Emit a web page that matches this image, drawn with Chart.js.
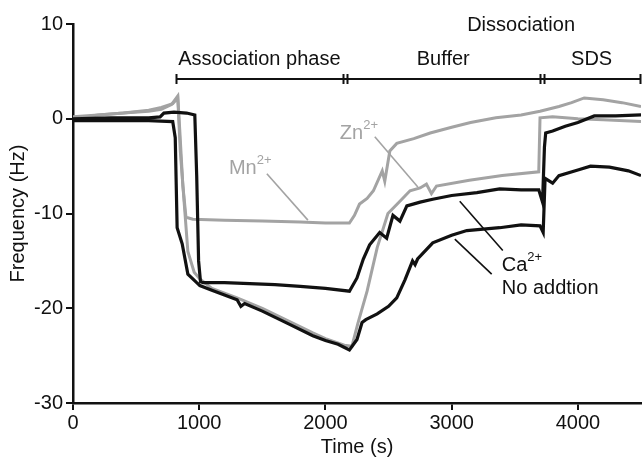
<!DOCTYPE html>
<html>
<head>
<meta charset="utf-8">
<script src="https://cdn.jsdelivr.net/npm/chart.js@4.4.1/dist/chart.umd.min.js"></script>
<style>
  html, body { margin: 0; padding: 0; background: #fff; }
</style>
</head>
<body>
<canvas id="qcmChart" width="643" height="460"></canvas>
<script>
// tick labels
const xTicks = [0, 1000, 2000, 3000, 4000];
const yTicks = [-30, -20, -10, 0, 10];

// Ca2+ trace (black)
const caTime = [0, 300, 600, 690, 720, 800, 900, 965, 980, 995, 1010, 1030, 1200, 1400, 1600, 1800, 2000, 2190, 2250, 2300, 2350, 2430, 2485, 2535, 2590, 2645, 2750, 2850, 3000, 3200, 3380, 3550, 3690, 3720, 3735, 3745, 3800, 3900, 4000, 4130, 4300, 4500];
const caFreq = [0, 0.1, 0.1, 0.2, 0.6, 0.7, 0.6, 0.4, -6, -15, -17.2, -17.3, -17.3, -17.4, -17.5, -17.7, -17.9, -18.2, -16.8, -14.8, -13.3, -12.0, -12.6, -10.2, -10.8, -9.2, -8.8, -8.5, -8.1, -7.8, -7.4, -7.5, -7.5, -8.8, -3, -1.5, -1.3, -0.8, -0.4, 0.3, 0.3, 0.4];

// no addition trace (black)
const noAddTime = [0, 300, 600, 790, 810, 825, 865, 910, 980, 1005, 1100, 1200, 1300, 1330, 1360, 1500, 1700, 1900, 2000, 2100, 2190, 2250, 2290, 2320, 2410, 2500, 2565, 2630, 2690, 2710, 2730, 2850, 3000, 3120, 3380, 3550, 3700, 3725, 3740, 3800, 3850, 4000, 4100, 4250, 4400, 4500];
const noAddFreq = [-0.2, -0.2, -0.2, -0.3, -2, -11.5, -13.2, -16.4, -17.3, -17.6, -18.1, -18.6, -19.1, -19.8, -19.5, -20.3, -21.6, -22.9, -23.4, -23.8, -24.4, -23.3, -21.5, -21.2, -20.6, -19.8, -18.9, -17, -15, -15.4, -14.8, -13.1, -12.3, -11.8, -11.5, -11.2, -11.3, -12, -6.3, -6.8, -6.0, -5.4, -5.0, -5.1, -5.5, -6.0];

// Mn2+ trace (grey)
const mnTime = [0, 200, 400, 600, 700, 780, 830, 845, 870, 895, 950, 1200, 1500, 1800, 2000, 2190, 2230, 2270, 2330, 2380, 2450, 2470, 2510, 2565, 2700, 2830, 3000, 3150, 3350, 3550, 3700, 3850, 3950, 4050, 4200, 4350, 4500];
const mnFreq = [0, 0.4, 0.6, 0.8, 1.0, 1.5, 2.4, -1, -7, -10.4, -10.6, -10.7, -10.8, -10.9, -11.0, -11.0, -10.2, -9.0, -8.4, -7.6, -5.5, -6.6, -3.4, -2.6, -2.1, -1.5, -0.9, -0.4, 0.1, 0.4, 0.8, 1.3, 1.7, 2.2, 2.0, 1.7, 1.3];

// Zn2+ trace (grey)
const znTime = [0, 200, 400, 600, 700, 790, 830, 850, 910, 960, 1005, 1100, 1300, 1500, 1700, 1900, 2000, 2150, 2210, 2257, 2330, 2410, 2495, 2590, 2670, 2750, 2800, 2840, 2880, 3140, 3400, 3690, 3700, 3800, 4000, 4200, 4500];
const znFreq = [0.2, 0.4, 0.6, 0.9, 1.2, 1.6, 2.2, -3.4, -14, -16.2, -16.9, -17.9, -18.9, -20.0, -21.3, -22.6, -23.2, -23.9, -24.0, -21.6, -18.2, -13.6, -10.0, -8.7, -7.6, -7.3, -6.9, -7.9, -7.1, -6.5, -6.0, -5.6, 0.1, 0.2, 0.0, -0.1, -0.3];

// phase brackets along the top
const phaseNames = ['Association phase', 'Buffer', 'SDS'];
const phaseStart = [815, 2169, 3729];
const phaseEnd = [2138, 3698, 4489];

const BLACK = '#111111';
const GREY = '#a3a3a3';

function pts(t, f) {
  return t.map((v, i) => ({ x: v, y: f[i] }));
}

// labels and pointer lines, in data units
const callouts = [
  { text: 'Mn', sup: '2+', color: GREY, x: 1235, y: -5.2, line: [1536, -5.8, 1861, -10.7] },
  { text: 'Zn', sup: '2+', color: GREY, x: 2114, y: -1.6, line: [2391, -1.9, 2732, -7.2] },
  { text: 'Ca', sup: '2+', color: BLACK, x: 3397, y: -15.5, line: [3064, -8.7, 3405, -13.9] },
  { text: 'No addtion', sup: '', color: BLACK, x: 3397, y: -17.9, line: [3025, -12.7, 3317, -16.4] }
];

const annotate = {
  id: 'annotate',
  afterDraw(chart) {
    const { ctx, scales: { x, y } } = chart;
    ctx.save();

    // brackets
    ctx.strokeStyle = BLACK;
    ctx.lineWidth = 2;
    const by = y.getPixelForValue(4.2);
    ctx.beginPath();
    ctx.moveTo(x.getPixelForValue(phaseStart[0]), by);
    ctx.lineTo(x.getPixelForValue(phaseEnd[phaseEnd.length - 1]), by);
    phaseStart.concat(phaseEnd).forEach(v => {
      const px = Math.round(x.getPixelForValue(v)) + 0.5;
      ctx.moveTo(px, by - 5);
      ctx.lineTo(px, by + 5);
    });
    ctx.stroke();

    ctx.fillStyle = BLACK;
    ctx.font = '20px "Liberation Sans", Arial, sans-serif';
    ctx.textAlign = 'center';
    ctx.textBaseline = 'middle';
    const ly = y.getPixelForValue(6.3);
    phaseNames.forEach((name, i) => {
      const cx = (x.getPixelForValue(phaseStart[i]) + x.getPixelForValue(phaseEnd[i])) / 2;
      ctx.fillText(name, cx, ly);
    });
    ctx.fillText('Dissociation', x.getPixelForValue(3550), y.getPixelForValue(9.8));

    // callouts
    ctx.textAlign = 'left';
    callouts.forEach(c => {
      ctx.strokeStyle = c.color;
      ctx.lineWidth = 1.6;
      ctx.beginPath();
      ctx.moveTo(x.getPixelForValue(c.line[0]), y.getPixelForValue(c.line[1]));
      ctx.lineTo(x.getPixelForValue(c.line[2]), y.getPixelForValue(c.line[3]));
      ctx.stroke();

      const tx = x.getPixelForValue(c.x);
      const ty = y.getPixelForValue(c.y);
      ctx.fillStyle = c.color;
      ctx.font = '20px "Liberation Sans", Arial, sans-serif';
      ctx.fillText(c.text, tx, ty);
      if (c.sup) {
        const w = ctx.measureText(c.text).width;
        ctx.font = '13px "Liberation Sans", Arial, sans-serif';
        ctx.fillText(c.sup, tx + w, ty - 8);
      }
    });

    ctx.restore();
  }
};

const axisFont = { family: '"Liberation Sans", Arial, sans-serif', size: 20 };

new Chart(document.getElementById('qcmChart'), {
  type: 'line',
  data: {
    datasets: [
      { label: 'Ca2+', data: pts(caTime, caFreq), borderColor: BLACK, borderWidth: 3.2 },
      { label: 'No addtion', data: pts(noAddTime, noAddFreq), borderColor: BLACK, borderWidth: 3.2 },
      { label: 'Mn2+', data: pts(mnTime, mnFreq), borderColor: GREY, borderWidth: 3 },
      { label: 'Zn2+', data: pts(znTime, znFreq), borderColor: GREY, borderWidth: 3 }
    ]
  },
  options: {
    responsive: false,
    animation: false,
    devicePixelRatio: 1,
    layout: { padding: { top: 24, right: 2, left: 0, bottom: 0 } },
    elements: { point: { radius: 0 }, line: { tension: 0, fill: false } },
    plugins: { legend: { display: false }, tooltip: { enabled: false } },
    scales: {
      x: {
        type: 'linear',
        min: 0,
        max: 4500,
        afterBuildTicks: s => { s.ticks = xTicks.map(v => ({ value: v })); },
        afterFit: s => { s.height = 57; },
        grid: { drawOnChartArea: false, drawTicks: true, tickLength: 7, color: BLACK, lineWidth: 2 },
        border: { display: true, color: BLACK, width: 2.5 },
        ticks: { color: BLACK, font: axisFont, padding: 1, maxRotation: 0, callback: v => String(v) },
        title: { display: true, text: 'Time (s)', color: BLACK, font: axisFont, padding: { top: 0, bottom: 1 } }
      },
      y: {
        min: -30,
        max: 10,
        afterBuildTicks: s => { s.ticks = yTicks.map(v => ({ value: v })); },
        afterFit: s => { s.width = 73; },
        grid: { drawOnChartArea: false, drawTicks: true, tickLength: 7, color: BLACK, lineWidth: 2 },
        border: { display: true, color: BLACK, width: 2.5 },
        ticks: { color: BLACK, font: axisFont, padding: 3, callback: v => String(v) },
        title: { display: true, text: 'Frequency (Hz)', color: BLACK, font: axisFont, padding: { top: 6, bottom: 0 } }
      }
    }
  },
  plugins: [annotate]
});
</script>
</body>
</html>
